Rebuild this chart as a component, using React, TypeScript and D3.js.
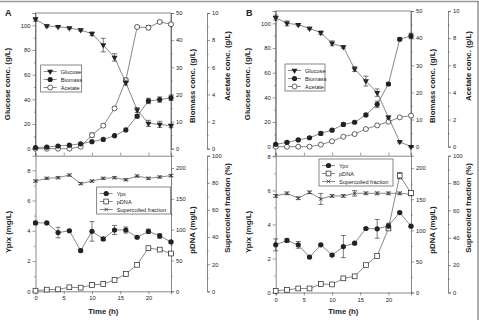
import React, { useRef, useEffect } from "react";
import * as d3 from "d3";

const hours = [0, 2, 4, 6, 8, 10, 12, 14, 16, 18, 20, 22, 24];

// panel A - growth
const glucoseA = [104.9, 99.5, 98.9, 97.8, 96.2, 93.2, 84, 74, 53.5, 31.4, 20.5, 19.7, 18.6];
const glucoseErrA = [1.5, 1, 0.8, 0.8, 1, 1.5, 5.5, 3, 2, 2, 2.5, 2.5, 1.5];
const biomassA = [0.4, 0.6, 1.0, 1.3, 1.8, 2.6, 3.4, 4.8, 6.9, 12.0, 17.6, 18.1, 18.75];
const biomassErrA = [0, 0, 0.2, 0, 0.2, 0, 0, 0, 0, 0.6, 1, 1, 1];
const acetateA = [0, 0, 0, 0, 0.15, 1.0, 1.7, 2.97, 5.05, 8.97, 8.92, 9.34, 9.17];
const acetateErrA = [0, 0, 0, 0, 0.05, 0.15, 0.1, 0.1, 0.15, 0.08, 0.15, 0.1, 0.1];
// panel A - plasmid
const ypxA = [4.52, 4.52, 3.88, 4.0, 2.69, 3.96, 3.46, 4.05, 4.05, 3.57, 3.96, 3.66, 3.26];
const ypxErrA = [0.1, 0.05, 0.35, 0.05, 0.1, 0.65, 0.1, 0.3, 0.2, 0.05, 0.15, 0.15, 0.05];
const pdnaA = [1, 2.7, 3.2, 6.5, 5.9, 10.2, 11.8, 18.3, 28, 43, 70, 67.7, 61.3];
const pdnaErrA = [0, 0, 0, 0, 0, 0, 0, 0, 0, 0, 2, 2, 0.5];
const scA = [81.3, 83.3, 83.8, 85.7, 79.4, 81.3, 83.3, 83.8, 82.3, 85, 83.3, 84.3, 85.3];
const scErrA = [0.8, 0.8, 0.8, 0.8, 0.8, 0.8, 0.8, 0.8, 0.8, 0.8, 0.8, 0.8, 0.8];

// panel B - growth
const glucoseB = [104.6, 100, 98.9, 95.9, 92.4, 83.8, 80.8, 63, 53.2, 43.8, 23.8, 4, 0];
const glucoseErrB = [2, 2, 1, 1, 1.5, 2, 1, 2, 4, 3, 1, 1, 0.5];
const biomassB = [0.86, 1.6, 2.5, 3.3, 4.9, 6.1, 8.2, 9.0, 11.7, 15.6, 23.1, 39.6, 40.8];
const biomassErrB = [0.3, 0.3, 0.3, 0.3, 0.6, 0.3, 0.6, 0.4, 0.4, 1.2, 0.5, 0.5, 1];
const acetateB = [0, 0, 0, 0, 0.15, 0.4, 0.74, 0.93, 1.3, 1.57, 1.84, 2.16, 2.29];
const acetateErrB = [0, 0, 0, 0, 0, 0, 0, 0, 0, 0, 0, 0, 0];
// panel B - plasmid
const ypxB = [2.8, 3.06, 2.8, 2.08, 2.8, 2.2, 2.7, 2.9, 3.76, 3.74, 3.92, 4.7, 3.9];
const ypxErrB = [0.35, 0.1, 0.2, 0.05, 0.05, 0.05, 0.65, 0.05, 0.05, 0.55, 0.15, 0.05, 0.05];
const pdnaB = [2.7, 4.3, 6.5, 6.5, 13.6, 13, 22.8, 26, 44, 58.7, 103, 188, 160];
const pdnaErrB = [0, 0, 0, 0, 1.5, 0, 0, 0, 0, 0, 1.5, 5, 0];
const scB = [70.6, 72.5, 68.9, 73.2, 68.4, 70.6, 70.6, 72.5, 72.5, 72.5, 72.5, 72.5, 71.8];
const scErrB = [1, 1, 1, 1, 4, 1, 1, 2, 1, 1, 1, 1, 1];

const INK = "#222";
const LINE = "#555";
const FONT = "Liberation Sans, Arial, sans-serif";

function marker(g, type, x, y) {
  if (type === "tri") {
    g.append("path")
      .attr("d", d3.symbol(d3.symbolTriangle, 16)())
      .attr("transform", `translate(${x},${y}) rotate(180)`)
      .attr("fill", INK);
  } else if (type === "dot") {
    g.append("circle").attr("cx", x).attr("cy", y).attr("r", 2.6).attr("fill", INK);
  } else if (type === "ring") {
    g.append("circle").attr("cx", x).attr("cy", y).attr("r", 2.5)
      .attr("fill", "#fff").attr("stroke", INK).attr("stroke-width", 0.7);
  } else if (type === "box") {
    g.append("rect").attr("x", x - 2.4).attr("y", y - 2.4).attr("width", 4.8).attr("height", 4.8)
      .attr("fill", "#fff").attr("stroke", INK).attr("stroke-width", 0.7);
  } else if (type === "x") {
    g.append("path")
      .attr("d", d3.symbol(d3.symbolX, 10)())
      .attr("transform", `translate(${x},${y})`)
      .attr("fill", "none").attr("stroke", INK).attr("stroke-width", 0.7);
  }
}

function series(g, x, y, vals, errs, type) {
  const line = d3.line().x((d, i) => x(hours[i])).y((d) => y(d));
  g.append("path").datum(vals).attr("d", line)
    .attr("fill", "none").attr("stroke", LINE).attr("stroke-width", 0.7);
  vals.forEach((v, i) => {
    const e = errs[i];
    if (e > 0) {
      const cx = x(hours[i]);
      const y0 = y(v - e), y1 = y(v + e);
      g.append("line").attr("x1", cx).attr("x2", cx).attr("y1", y0).attr("y2", y1)
        .attr("stroke", INK).attr("stroke-width", 0.6);
      [y0, y1].forEach((yy) =>
        g.append("line").attr("x1", cx - 2.5).attr("x2", cx + 2.5).attr("y1", yy).attr("y2", yy)
          .attr("stroke", INK).attr("stroke-width", 0.6));
    }
  });
  vals.forEach((v, i) => marker(g, type, x(hours[i]), y(v)));
}

function yAxis(g, scale, xPos, side, major, minor, fmt) {
  const axis = (side === "left" ? d3.axisLeft(scale) : d3.axisRight(scale))
    .tickValues(major).tickSize(3).tickPadding(2).tickFormat(fmt || d3.format("d"));
  const a = g.append("g").attr("transform", `translate(${xPos},0)`).call(axis);
  const minorAxis = (side === "left" ? d3.axisLeft(scale) : d3.axisRight(scale))
    .tickValues(minor).tickSize(1.6).tickFormat("");
  g.append("g").attr("transform", `translate(${xPos},0)`).call(minorAxis)
    .call((s) => s.select(".domain").remove());
  a.selectAll("text").attr("font-size", 5.8).attr("fill", INK).attr("font-family", FONT);
  g.selectAll(".domain").attr("stroke", LINE).attr("stroke-width", 0.7);
  g.selectAll(".tick line").attr("stroke", LINE).attr("stroke-width", 0.6);
}

function vTitle(svg, text, x, y) {
  svg.append("text").attr("transform", `translate(${x},${y}) rotate(-90)`)
    .attr("text-anchor", "middle").attr("font-size", 7.8).attr("font-weight", "bold")
    .attr("font-family", FONT).attr("fill", INK).text(text);
}

function legend(svg, x, y, w, h, items) {
  const g = svg.append("g");
  g.append("rect").attr("x", x).attr("y", y).attr("width", w).attr("height", h)
    .attr("fill", "#fff").attr("stroke", LINE).attr("stroke-width", 0.7);
  items.forEach((it, i) => {
    const yy = y + 6.5 + i * 8;
    g.append("line").attr("x1", x + 3).attr("x2", x + 16).attr("y1", yy).attr("y2", yy)
      .attr("stroke", LINE).attr("stroke-width", 0.7);
    marker(g, it.type, x + 9.5, yy);
    g.append("text").attr("x", x + 20).attr("y", yy + 2).attr("font-size", 5.6)
      .attr("font-family", FONT).attr("fill", INK).text(it.label);
  });
}

function drawPanel(svg, p) {
  const x = d3.scaleLinear().domain([0, 24]).range([p.x0, p.x1]);
  const g = svg.append("g");

  // top plot
  const yG = d3.scaleLinear().domain([0, 110]).range([p.topZero, p.topTop]);
  const yBio = d3.scaleLinear().domain([0, 50]).range([p.topZero, p.topTop]);
  const yAc = d3.scaleLinear().domain([0, 10]).range([p.topZero, p.topTop]);
  g.append("line").attr("x1", p.x0).attr("x2", p.x1).attr("y1", p.topTop).attr("y2", p.topTop)
    .attr("stroke", LINE).attr("stroke-width", 0.7);
  g.append("line").attr("x1", p.x0).attr("x2", p.x0).attr("y1", p.topTop).attr("y2", p.split)
    .attr("stroke", LINE).attr("stroke-width", 0.7);
  g.append("line").attr("x1", p.x1).attr("x2", p.x1).attr("y1", p.topTop).attr("y2", p.split)
    .attr("stroke", LINE).attr("stroke-width", 0.7);
  yAxis(g, yG, p.x0, "left", [0, 20, 40, 60, 80, 100], d3.range(10, 110, 20));
  yAxis(g, yBio, p.x1, "right", [0, 10, 20, 30, 40, 50], d3.range(5, 50, 10));
  yAxis(g, yAc, p.axis3, "right", [0, 2, 4, 6, 8, 10], d3.range(1, 10, 2));
  // shared separator with ticks
  const sep = d3.axisTop(x).tickValues([0, 5, 10, 15, 20]).tickSize(3).tickFormat("");
  g.append("g").attr("transform", `translate(0,${p.split})`).call(sep)
    .call((s) => s.selectAll("line").attr("stroke", LINE).attr("stroke-width", 0.6))
    .call((s) => s.select(".domain").attr("stroke", LINE).attr("stroke-width", 0.7));

  series(g, x, yAc, p.acetate, p.acetateErr, "ring");
  series(g, x, yBio, p.biomass, p.biomassErr, "dot");
  series(g, x, yG, p.glucose, p.glucoseErr, "tri");

  // bottom plot
  const yY = d3.scaleLinear().domain([0, p.ypxMax]).range([p.botZero, p.split]);
  const yP = d3.scaleLinear().domain([0, 220]).range([p.botZero, p.split]);
  const yS = d3.scaleLinear().domain([0, 100]).range([p.botZero, p.split]);
  yAxis(g, yY, p.x0, "left", [0, 2, 4, 6, 8], d3.range(1, 9, 2).filter((v) => v < p.ypxMax));
  yAxis(g, yP, p.x1, "right", [0, 50, 100, 150, 200], d3.range(25, 220, 50));
  yAxis(g, yS, p.axis3, "right", [0, 20, 40, 60, 80, 100], d3.range(10, 100, 20));
  const xa = d3.axisBottom(x).tickValues([0, 5, 10, 15, 20]).tickSize(3).tickPadding(2);
  const xg = g.append("g").attr("transform", `translate(0,${p.botZero})`).call(xa);
  xg.selectAll("text").attr("font-size", 5.8).attr("fill", INK).attr("font-family", FONT);
  xg.selectAll("line").attr("stroke", LINE).attr("stroke-width", 0.6);
  xg.select(".domain").attr("stroke", LINE).attr("stroke-width", 0.7);

  series(g, x, yS, p.sc, p.scErr, "x");
  series(g, x, yP, p.pdna, p.pdnaErr, "box");
  series(g, x, yY, p.ypx, p.ypxErr, "dot");

  legend(svg, p.leg1[0], p.leg1[1], p.leg1[2], 27, [
    { type: "tri", label: "Glucose" },
    { type: "dot", label: "Biomass" },
    { type: "ring", label: "Acetate" },
  ]);
  legend(svg, p.leg2[0], p.leg2[1], p.leg2[2], 27, [
    { type: "dot", label: "Ypx" },
    { type: "box", label: "pDNA" },
    { type: "x", label: "Supercoiled fraction" },
  ]);

  vTitle(svg, "Glucose conc. (g/L)", p.x0 - 26, 84);
  vTitle(svg, "Biomass conc. (g/L)", p.x1 + 24, 86);
  vTitle(svg, "Acetate conc. (g/L)", p.axis3 + 23, 66);
  vTitle(svg, "Yp/x (mg/L)", p.x0 - 25, 232);
  vTitle(svg, "pDNA (mg/L)", p.x1 + 24, 230);
  vTitle(svg, "Supercoiled fraction (%)", p.axis3 + 23, 208);
  svg.append("text").attr("x", (p.x0 + p.x1) / 2).attr("y", 314).attr("text-anchor", "middle")
    .attr("font-size", 7.8).attr("font-weight", "bold").attr("font-family", FONT).attr("fill", INK)
    .text("Time (h)");
  svg.append("text").attr("x", p.labelX).attr("y", 15.5).attr("font-size", 9)
    .attr("font-weight", "bold").attr("font-family", FONT).attr("fill", INK).text(p.label);
}

const App = () => {
  const svgRef = useRef(null);

  useEffect(() => {
    const svg = d3.select(svgRef.current);
    svg.selectAll("*").remove();
    svg.append("rect").attr("width", 479).attr("height", 320).attr("fill", "#fff");
    svg.append("line").attr("x1", 0).attr("x2", 479).attr("y1", 1.5).attr("y2", 1.5)
      .attr("stroke", "#999").attr("stroke-width", 1.5);
    svg.append("line").attr("x1", 478).attr("x2", 478).attr("y1", 1.5).attr("y2", 320)
      .attr("stroke", "#777").attr("stroke-width", 1.2);

    drawPanel(svg, {
      label: "A", labelX: 5,
      x0: 35.5, x1: 171, axis3: 207,
      topTop: 13, topZero: 148.7, split: 155.7, botZero: 291.3, ypxMax: 8.96,
      glucose: glucoseA, glucoseErr: glucoseErrA,
      biomass: biomassA, biomassErr: biomassErrA,
      acetate: acetateA, acetateErr: acetateErrA,
      ypx: ypxA, ypxErr: ypxErrA, pdna: pdnaA, pdnaErr: pdnaErrA, sc: scA, scErr: scErrA,
      leg1: [40.7, 65, 41], leg2: [96.7, 187, 74],
    });
    drawPanel(svg, {
      label: "B", labelX: 246,
      x0: 275.7, x1: 411, axis3: 448,
      topTop: 11, topZero: 146.7, split: 155.7, botZero: 292.5, ypxMax: 8.04,
      glucose: glucoseB, glucoseErr: glucoseErrB,
      biomass: biomassB, biomassErr: biomassErrB,
      acetate: acetateB, acetateErr: acetateErrB,
      ypx: ypxB, ypxErr: ypxErrB, pdna: pdnaB, pdnaErr: pdnaErrB, sc: scB, scErr: scErrB,
      leg1: [285, 64, 40], leg2: [319, 159, 74],
    });
  }, []);

  return (
    <svg ref={svgRef} width={479} height={320}
      style={{ position: "absolute", left: 0, top: 0 }} />
  );
};

export default App;
